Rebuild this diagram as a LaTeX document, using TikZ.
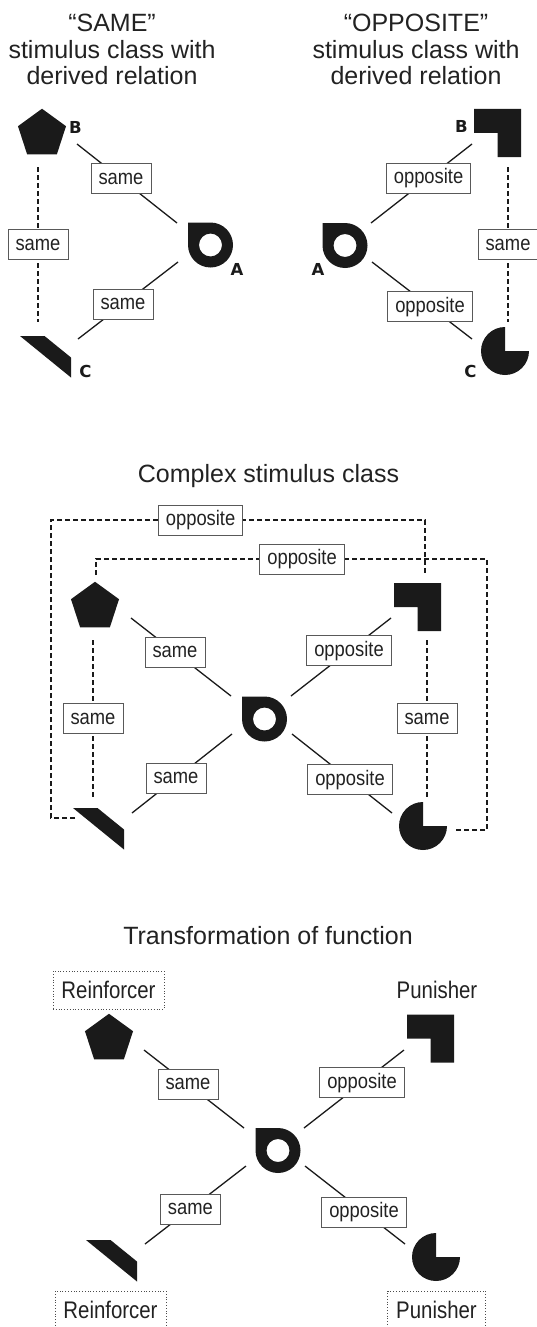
\documentclass[tikz,border=0pt]{standalone}
\usepackage{fontspec}
\setmainfont{Liberation Sans}
\newfontfamily\lblfont[FakeStretch=0.875]{Liberation Sans}
\newfontfamily\fnfont[FakeStretch=0.85]{Liberation Sans}
\newfontfamily\letfont{DejaVu Sans}
\usetikzlibrary{shapes.geometric}
\definecolor{ink}{HTML}{1A1A1A}
\definecolor{txt}{HTML}{222222}
\tikzset{
  pent/.style={regular polygon, regular polygon sides=5, minimum size=50.5pt, inner sep=0pt, fill=ink, draw=none},
  rel/.style={line width=1.3pt, draw=ink},
  drel/.style={rel, dash pattern=on 5pt off 3pt},
  lbl/.style={solid, draw=black!65, line width=0.8pt, fill=white, text=txt, font=\lblfont\fontsize{21}{25}\selectfont, minimum height=30pt, inner xsep=7.5pt, inner ysep=0pt},
  fn/.style={text=txt, font=\fnfont\fontsize{24}{28}\selectfont, minimum height=38pt, inner xsep=8.5pt, inner ysep=0pt},
  fnbox/.style={fn, draw=black!70, dotted, line width=0.8pt},
  ttl/.style={text=txt, font=\fontsize{25}{26.5}\selectfont, align=center, inner sep=0pt},
  letr/.style={text=ink, font=\letfont\bfseries\fontsize{16.5}{16.5}\selectfont, inner sep=0pt},
  ashape/.pic={\fill[ink, even odd rule] (-22.5,-22.5) -- (0,-22.5) arc[start angle=270, end angle=540, radius=22.5] -- cycle (0,0) circle[radius=11.5];},
  bshape/.pic={\fill[ink] (-23.5,-24) -- (23.5,-24) -- (23.5,24) -- (0,24) -- (0,0) -- (-23.5,0) -- cycle;},
  cshape/.pic={\fill[ink] (0,0) -- (24.5,0) -- (51,21.5) -- (51,41.5) -- cycle;},
  dshape/.pic={\fill[ink] (0,0) -- (0,-24) arc[start angle=270, end angle=0, radius=24] -- cycle;}
}
\begin{document}
\begin{tikzpicture}[x=1pt, y=-1pt]
\useasboundingbox (0,0) rectangle (537,1327);

% ---------------- Section 1: titles
\node[ttl, anchor=north] (t1) at (112,14) {“SAME”\\stimulus class with\\derived relation};
\node[ttl, anchor=north] (t2) at (416,14) {“OPPOSITE”\\stimulus class with\\derived relation};

% ---------------- Section 1 left (SAME)
\node[pent] (s1B) at (42,134) {};
\node[letr] (s1Bl) at (75.5,127) {B};
\coordinate (s1A) at (210.5,245); \pic at (s1A) {ashape};
\node[letr] (s1Al) at (237,269.5) {A};
\coordinate (s1C) at (20,336); \pic at (s1C) {cshape};
\node[letr] (s1Cl) at (85.5,371) {C};
\coordinate (s1ba) at (77,144);  \coordinate (s1ab) at (177,223);
\coordinate (s1ac) at (178,262); \coordinate (s1ca) at (78,339);
\coordinate (s1bc) at (38,167);  \coordinate (s1cb) at (38,322);
\draw[rel] (s1ba) -- node[lbl, pos=0.44] (l1) {same} (s1ab);
\draw[rel] (s1ac) -- node[lbl, pos=0.55] (l2) {same} (s1ca);
\draw[drel] (s1bc) -- node[lbl, pos=0.5] (l3) {same} (s1cb);

% ---------------- Section 1 right (OPPOSITE)
\coordinate (s1rA) at (345,245.5); \pic at (s1rA) {ashape};
\node[letr] (s1rAl) at (318,269) {A};
\coordinate (s1rB) at (497.5,133); \pic at (s1rB) {bshape};
\node[letr] (s1rBl) at (461.5,126.5) {B};
\coordinate (s1rC) at (505,351); \pic at (s1rC) {dshape};
\node[letr] (s1rCl) at (470.5,371) {C};
\coordinate (s1rab) at (371,223); \coordinate (s1rba) at (472,144);
\coordinate (s1rac) at (372,262); \coordinate (s1rca) at (472,339);
\coordinate (s1rbc) at (508,167); \coordinate (s1rcb) at (508,322);
\draw[rel] (s1rab) -- node[lbl, pos=0.57] (l4) {opposite} (s1rba);
\draw[rel] (s1rac) -- node[lbl, pos=0.58] (l5) {opposite} (s1rca);
\draw[drel] (s1rbc) -- node[lbl, pos=0.5] (l6) {same} (s1rcb);

% ---------------- Section 2: complex stimulus class
\node[ttl, anchor=base] (t3) at (268.5,482) {Complex stimulus class};
\node[pent] (s2B) at (95,607) {};
\coordinate (s2A) at (264.5,719); \pic at (s2A) {ashape};
\coordinate (s2C) at (73,808); \pic at (s2C) {cshape};
\coordinate (s2E) at (417.5,607); \pic at (s2E) {bshape};
\coordinate (s2D) at (423,826); \pic at (s2D) {dshape};
\coordinate (s2ba) at (131,618); \coordinate (s2ab) at (231,696);
\coordinate (s2ac) at (232,734); \coordinate (s2ca) at (132,813);
\coordinate (s2bc) at (93,640);  \coordinate (s2cb) at (93,797);
\coordinate (s2ae) at (291,696); \coordinate (s2ea) at (391,618);
\coordinate (s2ad) at (292,734); \coordinate (s2da) at (392,813);
\coordinate (s2ed) at (427,640); \coordinate (s2de) at (427,797);
\draw[rel] (s2ba) -- node[lbl, pos=0.44] (l7) {same} (s2ab);
\draw[rel] (s2ac) -- node[lbl, pos=0.56] (l8) {same} (s2ca);
\draw[drel] (s2bc) -- node[lbl, pos=0.5] (l9) {same} (s2cb);
\draw[rel] (s2ae) -- node[lbl, pos=0.58] (l10) {opposite} (s2ea);
\draw[rel] (s2ad) -- node[lbl, pos=0.58] (l11) {opposite} (s2da);
\draw[drel] (s2ed) -- node[lbl, pos=0.5] (l12) {same} (s2de);
% outer: C (left) to B-square (right)
\coordinate (oC) at (75,818); \coordinate (oL) at (51,520); \coordinate (oE) at (425,575);
\draw[drel] (oC) -- (oC -| oL) -- (oL) -- node[lbl, pos=0.4] (l13) {opposite} (oL -| oE) -- (oE);
% inner: pentagon to pacman
\coordinate (iB) at (96,575); \coordinate (iR) at (487,559); \coordinate (iD) at (455,830);
\draw[drel] (iB) -- (iB |- iR) -- node[lbl, pos=0.527] (l14) {opposite} (iR) -- (iR |- iD) -- (iD);

% ---------------- Section 3: transformation of function
\node[ttl, anchor=base] (t4) at (268,944) {Transformation of function};
\node[pent] (s3B) at (109,1039) {};
\coordinate (s3A) at (278,1150.5); \pic at (s3A) {ashape};
\coordinate (s3C) at (86,1240); \pic at (s3C) {cshape};
\coordinate (s3E) at (430.5,1038.5); \pic at (s3E) {bshape};
\coordinate (s3D) at (436,1257); \pic at (s3D) {dshape};
\coordinate (s3ba) at (144,1050); \coordinate (s3ab) at (244,1128);
\coordinate (s3ac) at (246,1166); \coordinate (s3ca) at (145,1244);
\coordinate (s3ae) at (304,1128); \coordinate (s3ea) at (404,1050);
\coordinate (s3ad) at (305,1166); \coordinate (s3da) at (405,1244);
\draw[rel] (s3ba) -- node[lbl, pos=0.44] (l15) {same} (s3ab);
\draw[rel] (s3ac) -- node[lbl, pos=0.55] (l16) {same} (s3ca);
\draw[rel] (s3ae) -- node[lbl, pos=0.58] (l17) {opposite} (s3ea);
\draw[rel] (s3ad) -- node[lbl, pos=0.59] (l18) {opposite} (s3da);
\node[fnbox] (r1) at (108.5,990) {Reinforcer};
\node[fn] (p1) at (437,990) {Punisher};
\node[fnbox] (r2) at (110.5,1310) {Reinforcer};
\node[fnbox] (p2) at (436.5,1310) {Punisher};
\end{tikzpicture}
\end{document}
